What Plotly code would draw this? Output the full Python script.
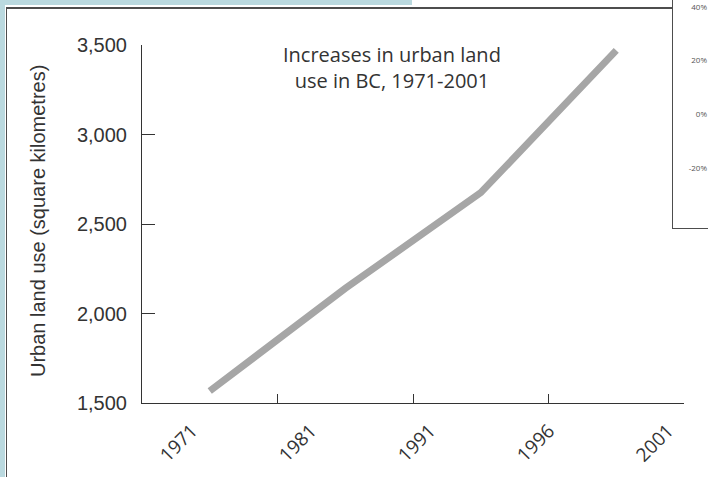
import plotly.graph_objects as go

# Urban land use in British Columbia (square kilometres)
data_years = ["1971", "1981", "1991", "2001"]
urban_km2 = [1567, 2140, 2675, 3470]

# Year labels printed under the horizontal axis
year_labels = ["1971", "1981", "1991", "1996", "2001"]

# Vertical axis ticks
y_ticks = [1500, 2000, 2500, 3000, 3500]
y_long_ticks = [2000, 2500, 3000]

# Percent labels of the neighbouring panel
pct_values = [40, 20, 0, -20]
pct_labels = ["40%", "20%", "0%", "-20%"]

W, H = 708, 477
AXIS = "#333333"
TEXT = "#333333"
FRAME = "#4d4d4d"
TINT = "#bad9df"


def px(x):
    return x / W


def py(y):
    return 1 - y / H


def block(x0, x1, y0, y1, color):
    # filled strip given in page pixels
    return dict(type="rect", xref="paper", yref="paper",
                x0=px(x0), x1=px(x1), y0=py(y1), y1=py(y0),
                fillcolor=color, line=dict(width=0), layer="above")


fig = go.Figure()

fig.add_trace(go.Scatter(
    x=data_years, y=urban_km2, mode="lines",
    line=dict(color="#a6a6a6", width=7),
    xaxis="x", yaxis="y", hoverinfo="skip", showlegend=False,
))
# carriers for the label axis and the extra tick axes
fig.add_trace(go.Scatter(x=year_labels, y=[None] * len(year_labels),
                         xaxis="x2", yaxis="y", showlegend=False, hoverinfo="skip"))
fig.add_trace(go.Scatter(x=data_years, y=[None] * len(data_years),
                         xaxis="x", yaxis="y2", showlegend=False, hoverinfo="skip"))
fig.add_trace(go.Scatter(x=data_years, y=[None] * len(data_years),
                         xaxis="x", yaxis="y3", showlegend=False, hoverinfo="skip"))

x_dom = [px(142), px(684)]
y_dom = [py(403), py(45)]

fig.update_layout(
    width=W, height=H,
    margin=dict(l=0, r=0, t=0, b=0, pad=0),
    paper_bgcolor="white", plot_bgcolor="rgba(0,0,0,0)",
    showlegend=False,
    xaxis=dict(
        domain=x_dom, type="category", categoryorder="array",
        categoryarray=data_years, range=[-0.5, 3.5], automargin=False,
        tickson="boundaries", ticks="inside", ticklen=9, tickcolor=AXIS,
        showticklabels=False, showline=True, linecolor=AXIS, linewidth=1,
        showgrid=False, zeroline=False,
    ),
    xaxis2=dict(
        domain=x_dom, overlaying="x", anchor="y", type="category",
        categoryorder="array", categoryarray=year_labels, automargin=False,
        range=[-0.42, 4.134], ticks="", showline=False, showgrid=False,
        tickangle=-45, ticklabelstandoff=12,
        tickfont=dict(family="Open Sans", size=19, color=TEXT),
    ),
    yaxis=dict(
        domain=y_dom, range=[1500, 3500], tickvals=y_ticks, tickformat=",",
        automargin=False,
        ticks="inside", ticklen=5, tickcolor=AXIS, ticklabelstandoff=10,
        showline=True, linecolor=AXIS, linewidth=1,
        showgrid=False, zeroline=False,
        tickfont=dict(family="Liberation Sans, Arial", size=20, color=TEXT),
    ),
    yaxis2=dict(
        domain=y_dom, overlaying="y", anchor="x", side="left",
        range=[1500, 3500], tickvals=y_long_ticks, automargin=False,
        ticks="inside", ticklen=13, tickcolor=AXIS,
        showticklabels=False, showline=False, showgrid=False, zeroline=False,
    ),
    yaxis3=dict(
        domain=[py(229), 1], anchor="free", position=1.0, side="left",
        range=[-42.7, 42.6], tickvals=pct_values, ticktext=pct_labels,
        automargin=False,
        ticks="", showline=False, showgrid=False, zeroline=False,
        ticklabelstandoff=1,
        tickfont=dict(family="Open Sans", size=8, color="#555555"),
    ),
)

# page decoration: tinted strips and frame lines
fig.update_layout(shapes=[
    block(0, 412, 0, 5, TINT),
    block(0, 5, 0, H, TINT),
    block(6, 673, 7, 9, FRAME),
    block(6, 7, 7, H, FRAME),
    block(672, 673, 0, 229, FRAME),
    block(672, W, 228, 229, FRAME),
])

fig.add_annotation(
    text="Increases in urban land<br>use in BC, 1971-2001",
    xref="paper", yref="paper", x=px(392), y=py(67), xanchor="center", yanchor="middle",
    showarrow=False, align="center",
    font=dict(family="Open Sans", size=20, color=TEXT),
)
fig.add_annotation(
    text="Urban land use (square kilometres)",
    xref="paper", yref="paper", x=px(38), y=py(221), xanchor="center", yanchor="middle",
    textangle=-90, showarrow=False,
    font=dict(family="Liberation Sans, Arial", size=20, color=TEXT),
)

fig.write_html("out.html")
